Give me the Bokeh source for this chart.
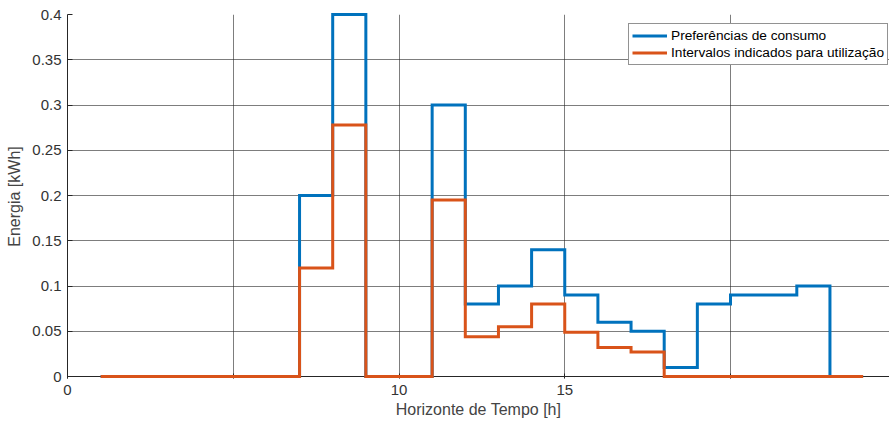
from bokeh.plotting import figure
from bokeh.models import Range1d, FixedTicker, NumeralTickFormatter, Span
from bokeh.embed import file_html
from bokeh.resources import INLINE

hours = list(range(1, 25))
preferencias = [0, 0, 0, 0, 0, 0, 0.2, 0.4, 0, 0, 0.3, 0.08, 0.1, 0.14, 0.09, 0.06,
                0.05, 0.01, 0.08, 0.09, 0.09, 0.1, 0, 0]
intervalos = [0, 0, 0, 0, 0, 0, 0.12, 0.278, 0, 0, 0.195, 0.044, 0.055, 0.08, 0.049, 0.032,
              0.027, 0, 0, 0, 0, 0, 0, 0]
x_ticks = [0, 5, 10, 15, 20]
x_tick_labels = {5: "", 20: ""}
y_ticks = [0, 0.05, 0.1, 0.15, 0.2, 0.25, 0.3, 0.35, 0.4]

FONT = "Liberation Sans"

p = figure(frame_width=822, frame_height=364, output_backend="svg", toolbar_location=None,
           x_range=Range1d(0, 822 / 33.15), y_range=Range1d(-0.4 * 2 / 362, 0.4),
           min_border_left=67, min_border_right=0, min_border_top=14, min_border_bottom=44)
p.outline_line_color = None
p.background_fill_color = "white"

# axis line drawn at y = 0
p.add_layout(Span(location=0, dimension="width", line_color="#262626", line_width=1,
                  level="guide"))

r1 = p.step(hours, preferencias, mode="after", line_color="#0072BD", line_width=3,
            line_join="miter", legend_label="Preferências de consumo")
r2 = p.step(hours, intervalos, mode="after", line_color="#D95319", line_width=3,
            line_join="miter", legend_label="Intervalos indicados para utilização")
r1.level = "overlay"
r2.level = "overlay"

p.xaxis.ticker = FixedTicker(ticks=x_ticks)
p.xaxis.major_label_overrides = x_tick_labels
p.yaxis.ticker = FixedTicker(ticks=y_ticks)
p.yaxis.formatter = NumeralTickFormatter(format="0.[00]")

for ax in (p.xaxis[0], p.yaxis[0]):
    ax.axis_line_color = "#262626"
    ax.major_tick_in = 5
    ax.major_tick_out = 0
    ax.minor_tick_in = 0
    ax.minor_tick_out = 0
    ax.major_tick_line_color = "#262626"
    ax.major_label_text_font = FONT
    ax.major_label_text_font_size = "15px"
    ax.major_label_text_color = "#333333"
    ax.axis_label_text_font = FONT
    ax.axis_label_text_font_size = "16px"
    ax.axis_label_text_font_style = "normal"
    ax.axis_label_text_color = "#444444"
p.xaxis.axis_line_color = None

p.xaxis.axis_label = "Horizonte de Tempo [h]"
p.yaxis.axis_label = "Energia [kWh]"
p.xaxis.major_label_standoff = 6
p.xaxis.axis_label_standoff = 3
p.yaxis.major_label_standoff = 6
p.yaxis.axis_label_standoff = 6

p.xgrid.ticker = FixedTicker(ticks=x_ticks)
p.ygrid.ticker = FixedTicker(ticks=y_ticks)
for g in (p.xgrid[0], p.ygrid[0]):
    g.grid_line_color = "#262626"
    g.grid_line_alpha = 0.6
    g.grid_line_width = 1

lg = p.legend[0]
lg.location = (561, 313)
lg.padding = 3
lg.spacing = 0
lg.margin = 0
lg.glyph_width = 35
lg.glyph_height = 17
lg.label_height = 17
lg.label_standoff = 4
lg.label_text_font = FONT
lg.label_text_font_size = "13.7px"
lg.label_text_color = "#000000"
lg.border_line_color = "#262626"
lg.border_line_width = 1
lg.background_fill_color = "white"
lg.background_fill_alpha = 1

open("out.html", "w").write(file_html(p, INLINE))
